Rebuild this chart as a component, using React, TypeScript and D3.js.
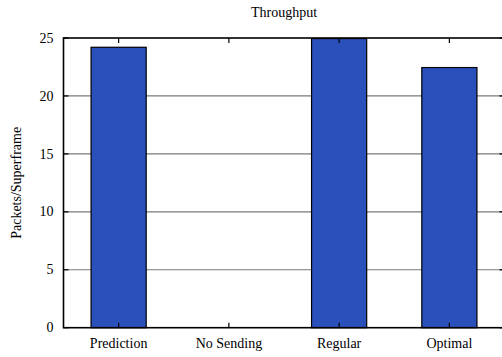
import React from "react";
import * as d3 from "d3";

const categories = ["Prediction", "No Sending", "Regular", "Optimal"];
const values = [24.2, 0, 24.95, 22.45];
const yTicks = [0, 5, 10, 15, 20, 25];
const title = "Throughput";
const yLabel = "Packets/Superframe";

const W = 502;
const H = 357;
const left = 63.5;
const right = 504.5;
const top = 38;
const bottom = 327.7;
const FONT = "Liberation Serif";
const FS = 14;

export default function App() {
  const x = d3.scaleLinear().domain([-0.5, categories.length - 0.5]).range([left, right]);
  const y = d3.scaleLinear().domain([0, 25]).range([bottom, top]);
  const barW = x(0.25) - x(-0.25);

  return (
    <svg width={W} height={H} style={{ position: "absolute", left: 0, top: 0, background: "#fff" }}>
      {/* grid */}
      {yTicks.filter((t) => t > 0 && t < 25).map((t) => (
        <line key={"g" + t} x1={left} x2={right} y1={y(t)} y2={y(t)} stroke="#7a7a7a" strokeWidth={1.2} />
      ))}
      {/* bars */}
      {values.map((v, i) =>
        v > 0 ? (
          <rect
            key={"b" + i}
            x={x(i) - barW / 2}
            y={y(v)}
            width={barW}
            height={y(0) - y(v)}
            fill="#2a50bc"
            stroke="#000"
            strokeWidth={1.2}
          />
        ) : null
      )}
      {/* y ticks */}
      {yTicks.map((t) => (
        <g key={"y" + t}>
          <line x1={left} x2={left + 5} y1={y(t)} y2={y(t)} stroke="#000" strokeWidth={1.2} />
          <line x1={right - 5} x2={right} y1={y(t)} y2={y(t)} stroke="#000" strokeWidth={1.2} />
          <text x={left - 10} y={y(t)} dy="0.33em" textAnchor="end" fontFamily={FONT} fontSize={FS}>
            {t}
          </text>
        </g>
      ))}
      {/* x ticks */}
      {categories.map((c, i) => (
        <g key={"x" + i}>
          <line x1={x(i)} x2={x(i)} y1={bottom} y2={bottom - 5} stroke="#000" strokeWidth={1.2} />
          <line x1={x(i)} x2={x(i)} y1={top} y2={top + 5} stroke="#000" strokeWidth={1.2} />
          <text x={x(i)} y={bottom + 20} textAnchor="middle" fontFamily={FONT} fontSize={FS}>
            {c}
          </text>
        </g>
      ))}
      {/* frame */}
      <rect x={left} y={top} width={right - left} height={bottom - top} fill="none" stroke="#000" strokeWidth={1.6} />
      <text x={(left + right) / 2} y={17} textAnchor="middle" fontFamily={FONT} fontSize={FS}>
        {title}
      </text>
      <text
        transform={`translate(21,${(top + bottom) / 2}) rotate(-90)`}
        textAnchor="middle"
        fontFamily={FONT}
        fontSize={FS}
      >
        {yLabel}
      </text>
    </svg>
  );
}
